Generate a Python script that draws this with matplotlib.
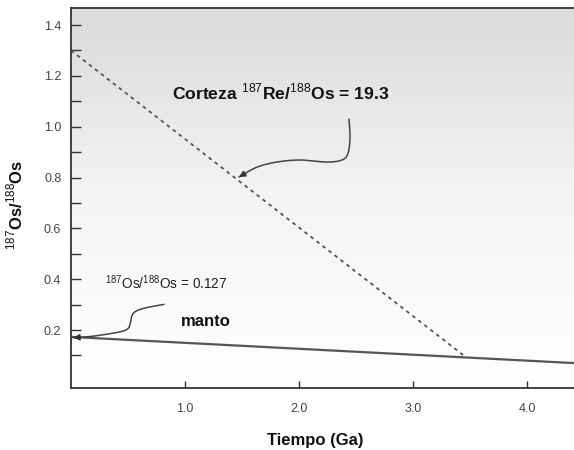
import numpy as np
import matplotlib
matplotlib.use("Agg")
import matplotlib.pyplot as plt
from matplotlib.colors import LinearSegmentedColormap

plt.rcParams['font.family'] = ['Liberation Sans', 'DejaVu Sans']
plt.rcParams['mathtext.fontset'] = 'custom'
plt.rcParams['mathtext.rm'] = 'Liberation Sans'
plt.rcParams['mathtext.bf'] = 'Liberation Sans:bold'

# Data
crust_x = [0.0, 3.46]
crust_y = [1.30, 0.094]
mantle_x = [0.0, 4.41]
mantle_y = [0.173, 0.070]

xticks = [1.0, 2.0, 3.0, 4.0]
xticklabels = ["1.0", "2.0", "3.0", "4.0"]
yticks = [0.1, 0.2, 0.3, 0.4, 0.5, 0.6, 0.7, 0.8, 0.9, 1.0, 1.1, 1.2, 1.3, 1.4]
yticklabels = ["", "0.2", "", "0.4", "", "0.6", "", "0.8", "", "1.0", "", "1.2", "", "1.4"]

# annotation arrow paths (data coords)
crust_arrow_x = [2.437, 2.446, 2.429, 2.376, 2.244, 2.008, 1.806, 1.631, 1.473]
crust_arrow_y = [1.030, 0.959, 0.896, 0.869, 0.861, 0.869, 0.861, 0.841, 0.802]
mantle_arrow_x = [0.815, 0.634, 0.546, 0.523, 0.502, 0.430, 0.196, 0.020]
mantle_arrow_y = [0.301, 0.285, 0.266, 0.233, 0.207, 0.193, 0.176, 0.170]

fig = plt.figure(figsize=(5.74, 4.5), dpi=100)
ax = fig.add_axes([71/574, 1-388/450, 1-71/574, 380/450])
xmin, xmax = 0.0, 4.41
ymin, ymax = -0.028, 1.467
ax.set_xlim(xmin, xmax)
ax.set_ylim(ymin, ymax)

# gradient background
cmap = LinearSegmentedColormap.from_list("g", ["#ffffff", "#f4f4f4", "#dadada"])
grad = np.linspace(0, 1, 256).reshape(-1, 1)
ax.imshow(grad, extent=[xmin, xmax, ymin, ymax], origin='lower', aspect='auto',
          cmap=cmap, zorder=0, interpolation='bilinear')

ax.plot(crust_x, crust_y, linestyle=(0, (2, 2.2)), color='#555555', lw=1.3, zorder=2)
ax.plot(mantle_x, mantle_y, color='#555555', lw=1.6, zorder=2)


def catmull_rom(xs, ys, n=20):
    p = np.column_stack([xs, ys]).astype(float)
    p = np.vstack([p[0], p, p[-1]])
    out = []
    for i in range(1, len(p) - 2):
        p0, p1, p2, p3 = p[i - 1], p[i], p[i + 1], p[i + 2]
        t = np.linspace(0, 1, n, endpoint=False)[:, None]
        pts = 0.5 * ((2 * p1) + (-p0 + p2) * t + (2 * p0 - 5 * p1 + 4 * p2 - p3) * t ** 2
                     + (-p0 + 3 * p1 - 3 * p2 + p3) * t ** 3)
        out.append(pts)
    out.append(p[-2][None, :])
    out = np.vstack(out)
    return out[:, 0], out[:, 1]


def curved_arrow(xs, ys):
    sx, sy = catmull_rom(xs, ys)
    ax.plot(sx, sy, color='#444444', lw=1.1, zorder=3, solid_capstyle='round',
            solid_joinstyle='round')
    ax.annotate("", xy=(sx[-1], sy[-1]), xytext=(sx[-4], sy[-4]),
                arrowprops=dict(arrowstyle='-|>', color='#333333', lw=1.1,
                                mutation_scale=9, shrinkA=0, shrinkB=0), zorder=4)


curved_arrow(crust_arrow_x, crust_arrow_y)
curved_arrow(mantle_arrow_x, mantle_arrow_y)

ax.text(0.886, 1.136, r"Corteza $^{187}$Re/$^{188}$Os = 19.3", fontsize=12.6,
        fontweight='bold', color='#111111', ha='left', va='center')
ax.text(0.298, 0.385, r"$^{187}$Os/$^{188}$Os = 0.127", fontsize=9.8,
        color='#222222', ha='left', va='center')
ax.text(0.96, 0.235, "manto", fontsize=12, fontweight='bold', color='#111111',
        ha='left', va='center')

ax.set_xticks(xticks)
ax.set_xticklabels(xticklabels)
ax.set_yticks(yticks)
ax.set_yticklabels(yticklabels)
ax.tick_params(axis='x', direction='in', length=5, width=1.0, color='#333333',
               labelsize=9, labelcolor='#444444', pad=11)
ax.tick_params(axis='y', direction='in', length=7, width=1.0, color='#333333',
               labelsize=9, labelcolor='#444444', pad=7)

for s in ['left', 'bottom', 'top']:
    ax.spines[s].set_color('#333333')
    ax.spines[s].set_linewidth(1.3)
ax.spines['right'].set_visible(False)

fig.text(315/574, 1-440/450, "Tiempo (Ga)", fontsize=12, fontweight='bold',
         ha='center', va='center', color='#111111')
fig.text(15/574, 1-205/450, r"$^{187}$Os/$^{188}$Os", fontsize=12, fontweight='bold',
         ha='center', va='center', rotation=90, color='#111111')

fig.savefig("out.png", dpi=100, facecolor='white')
